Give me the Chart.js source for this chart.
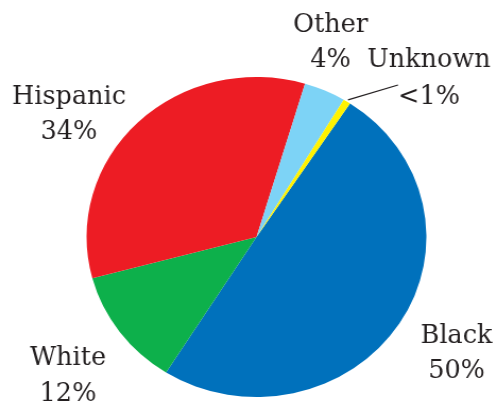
<!DOCTYPE html>
<html>
<head>
<meta charset="utf-8">
<script src="https://cdn.jsdelivr.net/npm/chart.js@4.4.1/dist/chart.umd.min.js"></script>
<style>
  html, body { margin: 0; padding: 0; background: #fff; overflow: hidden; }
  /* the pie is a little wider than tall, so the whole canvas is stretched */
  #wrap { width: 468px; height: 406px; transform: scaleX(1.062); transform-origin: 0 0; }
</style>
</head>
<body>
<div id="wrap"><canvas id="chart-race"></canvas></div>
<script>
const STRETCH = 1.062;

const groups = ["Black", "White", "Hispanic", "Other", "Unknown"];
const shares = [50, 12, 34, 4, 0.7];
const shareLabels = ["50%", "12%", "34%", "4%", "<1%"];
const sliceColors = ["#0071bc", "#0db04b", "#ed1c24", "#7dd3f6", "#fff200"];

// label anchors in page pixels: centre x, baseline of name, baseline of percent
const labelSpots = [
  [456.5, 343, 378],
  [68, 365, 401],
  [69, 104, 139],
  [330.5, 32, 67],
  [429, 67, 104],
];

const raceCanvas = document.querySelector("#chart-race");

const sliceLabels = {
  id: "sliceLabels",
  afterDraw(chart) {
    const ctx = chart.ctx;
    const arcs = chart.getDatasetMeta(0).data;

    // leader line for the thin "Unknown" slice
    const tiny = arcs[4].getProps(["x", "y", "startAngle", "endAngle", "outerRadius"], true);
    const mid = (tiny.startAngle + tiny.endAngle) / 2;
    const r = tiny.outerRadius + 2;
    ctx.save();
    ctx.strokeStyle = "#231f20";
    ctx.lineWidth = 1.3;
    ctx.beginPath();
    ctx.moveTo(tiny.x + r * Math.cos(mid), tiny.y + r * Math.sin(mid));
    ctx.lineTo(398 / STRETCH, 85);
    ctx.stroke();
    ctx.restore();

    ctx.save();
    ctx.fillStyle = "#231f20";
    ctx.font = "25.5px 'DejaVu Serif'";
    ctx.textAlign = "center";
    ctx.textBaseline = "alphabetic";
    groups.forEach((name, i) => {
      const [x, y1, y2] = labelSpots[i];
      [[name, y1], [shareLabels[i], y2]].forEach(([txt, y]) => {
        ctx.save();
        ctx.translate(x / STRETCH, y);
        ctx.scale(1 / STRETCH, 1);
        ctx.fillText(txt, 0, 0);
        ctx.restore();
      });
    });
    ctx.restore();
  },
};

const chartRace = new Chart(raceCanvas, {
  type: "pie",
  data: {
    labels: groups,
    datasets: [
      {
        data: shares,
        backgroundColor: sliceColors,
        borderWidth: 0,
        hoverOffset: 0,
        offset: 0,
      },
    ],
  },
  options: {
    responsive: true,
    maintainAspectRatio: false,
    animation: false,
    rotation: 33.4,
    layout: {
      padding: { top: 77, bottom: 9, left: 81.5, right: 66.5 },
    },
    plugins: {
      legend: { display: false },
      tooltip: { enabled: false },
    },
  },
  plugins: [sliceLabels],
});
</script>
</body>
</html>
